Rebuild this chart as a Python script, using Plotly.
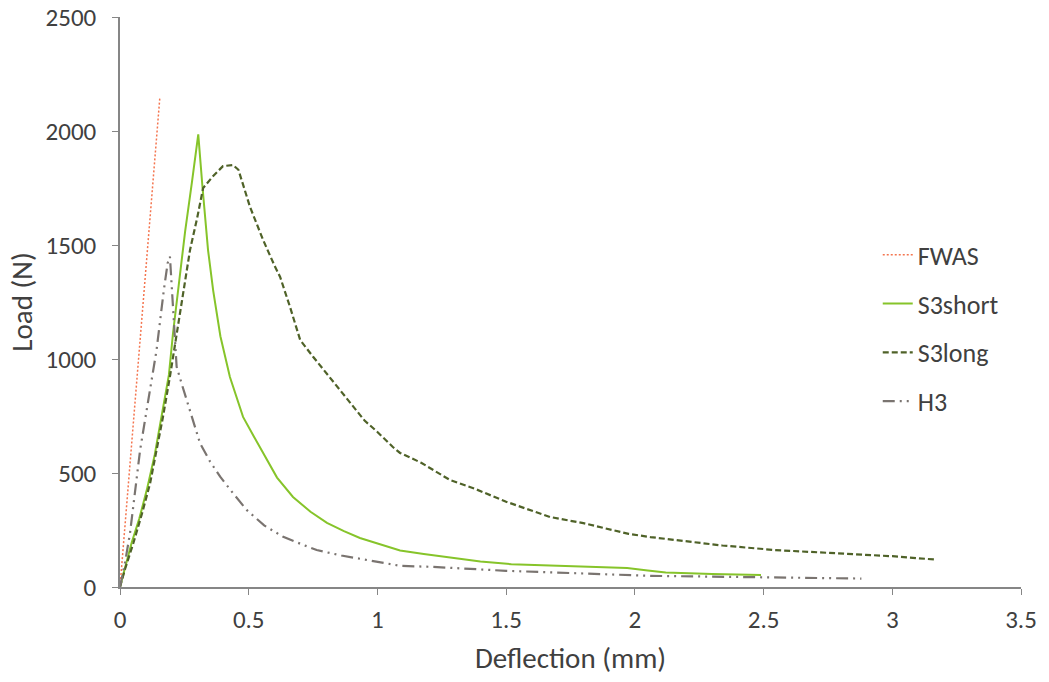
import plotly.graph_objects as go

# FWAS
fwas_x = [0, 0.155]
fwas_y = [0, 2150]

# S3short
s3short_x = [0, 0.02, 0.045, 0.075, 0.104, 0.135, 0.162, 0.19, 0.206, 0.233, 0.253, 0.28, 0.304,
             0.32, 0.342, 0.362, 0.39, 0.427, 0.478, 0.52, 0.556, 0.61, 0.672, 0.74, 0.804, 0.87,
             0.932, 1.0, 1.088, 1.18, 1.282, 1.40, 1.52, 1.75, 1.97, 2.05, 2.12, 2.3, 2.49]
s3short_y = [0, 90, 193, 300, 425, 580, 746, 930, 1114, 1377, 1560, 1780, 1985,
             1760, 1478, 1300, 1100, 921, 746, 660, 588, 480, 395, 330, 281, 245,
             215, 190, 160, 145, 130, 112, 100, 92, 83, 72, 64, 57, 53]

# S3long
s3long_x = [0, 0.02, 0.052, 0.085, 0.117, 0.14, 0.167, 0.195, 0.22, 0.245, 0.272, 0.30, 0.323,
            0.36, 0.40, 0.439, 0.46, 0.505, 0.556, 0.60, 0.622, 0.66, 0.70, 0.75, 0.80, 0.855,
            0.95, 1.0, 1.06, 1.088, 1.17, 1.282, 1.38, 1.50, 1.67, 1.80, 1.976, 2.06, 2.2, 2.34,
            2.545, 2.82, 3.0, 3.17]
s3long_y = [0, 80, 193, 320, 455, 590, 746, 930, 1114, 1300, 1478, 1620, 1750,
            1800, 1846, 1851, 1830, 1667, 1522, 1410, 1360, 1230, 1083, 1010, 940, 864,
            730, 680, 614, 588, 545, 469, 430, 374, 307, 280, 233, 219, 200, 182,
            162, 145, 135, 120]

# H3
h3_x = [0, 0.02, 0.039, 0.06, 0.078, 0.11, 0.142, 0.17, 0.185, 0.194, 0.2, 0.213, 0.22, 0.24,
        0.259, 0.285, 0.311, 0.35, 0.389, 0.44, 0.492, 0.56, 0.634, 0.70, 0.764, 0.86, 0.958,
        1.088, 1.217, 1.5, 2.06, 2.475, 2.88]
h3_y = [0, 110, 237, 420, 600, 820, 1039, 1300, 1420, 1449, 1333, 1114, 966, 890,
        820, 720, 630, 550, 484, 410, 338, 270, 220, 190, 162, 138, 118,
        93, 88, 71, 49, 44, 37]

x_ticks = [0, 0.5, 1, 1.5, 2, 2.5, 3, 3.5]
x_ticklabels = ["0", "0.5", "1", "1.5", "2", "2.5", "3", "3.5"]
y_ticks = [0, 500, 1000, 1500, 2000, 2500]

FONT = "Carlito, Lato, sans-serif"
TXT = "#404040"
AX = "#868686"

fig = go.Figure()
fig.add_trace(go.Scatter(x=fwas_x, y=fwas_y, mode="lines", name="FWAS", legendgroup="a",
                         line=dict(color="#F4754F", width=1.5, dash="2px,2px")))
fig.add_trace(go.Scatter(x=s3short_x, y=s3short_y, mode="lines", name="S3short", legendgroup="b",
                         line=dict(color="#86C42A", width=2)))
fig.add_trace(go.Scatter(x=s3long_x, y=s3long_y, mode="lines", name="S3long", legendgroup="c",
                         line=dict(color="#4F6228", width=2.2, dash="6px,3px")))
fig.add_trace(go.Scatter(x=h3_x, y=h3_y, mode="lines", name="H3", legendgroup="d",
                         line=dict(color="#7A7470", width=2.2, dash="12px,5px,2px,5px,2px,5px")))

fig.update_layout(
    width=1049, height=682,
    paper_bgcolor="white", plot_bgcolor="white",
    margin=dict(l=120, r=28, t=17, b=95, autoexpand=False),
    font=dict(family=FONT, size=25, color=TXT),
    legend=dict(x=0.841, y=0.624, xanchor="left", yanchor="top",
                font=dict(family=FONT, size=26, color=TXT),
                tracegroupgap=12, bgcolor="rgba(0,0,0,0)"),
    xaxis=dict(range=[0, 3.5], tickvals=x_ticks, ticktext=x_ticklabels, automargin=False,
               showgrid=False, zeroline=False, showline=True, linecolor=AX, linewidth=1.5,
               ticks="outside", ticklen=6, tickcolor=AX, tickfont=dict(size=25),
               ticklabelstandoff=3, ticklabeloverflow="allow",
               title=dict(text="Deflection (mm)", font=dict(size=29), standoff=14)),
    yaxis=dict(range=[0, 2500], tickvals=y_ticks, automargin=False,
               showgrid=False, zeroline=False, showline=True, linecolor=AX, linewidth=1.5,
               ticks="outside", ticklen=6, tickcolor=AX, tickfont=dict(size=25),
               ticklabelstandoff=11, ticklabeloverflow="allow",
               title=dict(text="Load (N)", font=dict(size=29), standoff=4)),
)

fig.write_html("out.html", config={"displayModeBar": False},
               post_script="document.body.style.margin='0';document.body.style.overflow='hidden';")
